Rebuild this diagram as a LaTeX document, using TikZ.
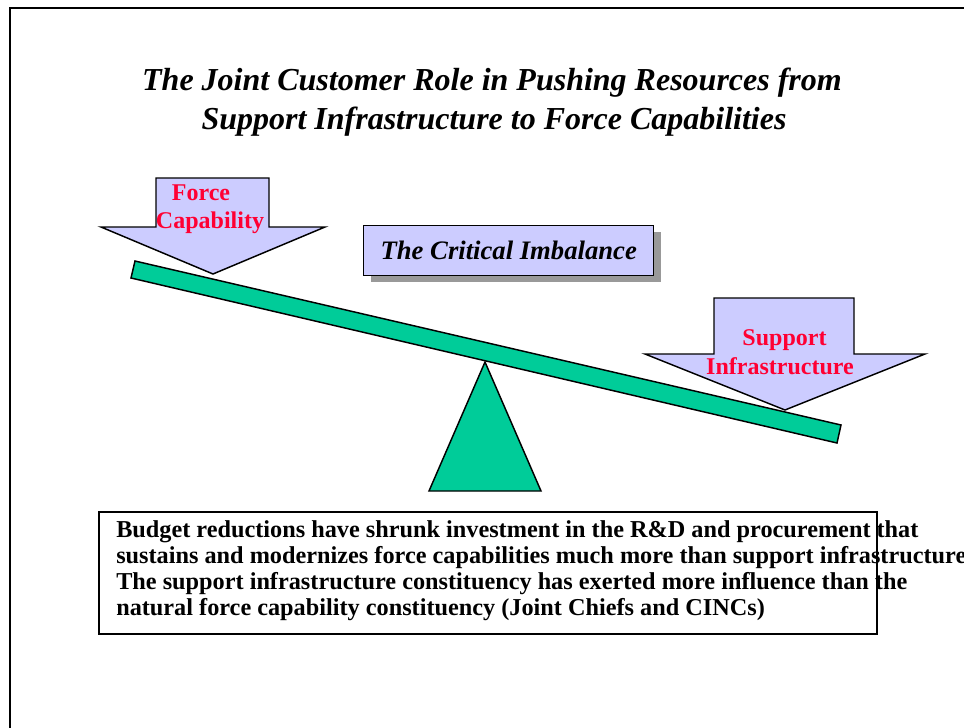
\documentclass[tikz,border=0pt]{standalone}
\usepackage{fontspec}
\setmainfont{Liberation Serif}[BoldFont={Liberation Serif Bold},ItalicFont={Liberation Serif Italic},BoldItalicFont={Liberation Serif Bold Italic}]
\definecolor{lav}{HTML}{CCCCFF}
\definecolor{beamgreen}{HTML}{00CC99}
\definecolor{labred}{HTML}{FF0033}
\definecolor{shadowgray}{HTML}{999999}
\begin{document}
\begin{tikzpicture}[x=0.75pt,y=-0.75pt,
  outl/.style={draw=black,line width=1.1pt,line join=miter},
  arrowshape/.style={outl,fill=lav},
  greenshape/.style={outl,fill=beamgreen},
  arrlabel/.style={inner sep=0pt,text=labred,font=\fontsize{18}{21}\selectfont\bfseries},
  titlefont/.style={inner sep=0pt,font=\fontsize{24}{28}\selectfont\bfseries\itshape},
  bodyline/.style={inner sep=0pt,anchor=base west,font=\fontsize{18.2}{21}\selectfont\bfseries}]
\useasboundingbox (0,0) rectangle (964,728);
\fill[white] (0,0) rectangle (964,728);
% page frame
\draw[line width=1.5pt] (10,728) -- (10,8) -- (970,8);
% title
\node[titlefont,anchor=base] (t1) at (492,90) {The Joint Customer Role in Pushing Resources from};
\node[titlefont,anchor=base] (t2) at (494,129) {Support Infrastructure to Force Capabilities};
% force capability arrow
\draw[arrowshape] (156,178) -- (269,178) -- (269,227) -- (325,227) -- (213,274) -- (101,227) -- (156,227) -- cycle;
\node[arrlabel,anchor=base] (fc1) at (201,200) {Force};
\node[arrlabel,anchor=base] (fc2) at (210,228) {Capability};
% support infrastructure arrow
\draw[arrowshape] (714,298) -- (854,298) -- (854,354) -- (925,354) -- (785,410) -- (645,354) -- (714,354) -- cycle;
\node[arrlabel,anchor=base] (si1) at (784.5,345) {Support};
\node[arrlabel,anchor=base] (si2) at (780,374) {Infrastructure};
% critical imbalance box
\fill[shadowgray] (371,232) rectangle (661,282);
\node[draw=black,line width=1.1pt,fill=lav,minimum width=290*0.75pt,minimum height=50*0.75pt,inner sep=0pt,anchor=north west,font=\fontsize{20}{24}\selectfont\bfseries\itshape] (ci) at (363,225) {The Critical Imbalance};
% beam
\draw[greenshape] (135,261) -- (841,425) -- (837,443) -- (131,278) -- cycle;
% fulcrum
\draw[greenshape] (485,362) -- (541,491) -- (429,491) -- cycle;
% bottom text box
\draw[line width=1.1pt] (99,512) rectangle (877,634);
\node[bodyline] (b1) at (116,537) {Budget reductions have shrunk investment in the R\&D and procurement that};
\node[bodyline] (b2) at (116,563) {sustains and modernizes force capabilities much more than support infrastructure};
\node[bodyline] (b3) at (116,589) {The support infrastructure constituency has exerted more influence than the};
\node[bodyline] (b4) at (116,615) {natural force capability constituency (Joint Chiefs and CINCs)};
\end{tikzpicture}
\end{document}
